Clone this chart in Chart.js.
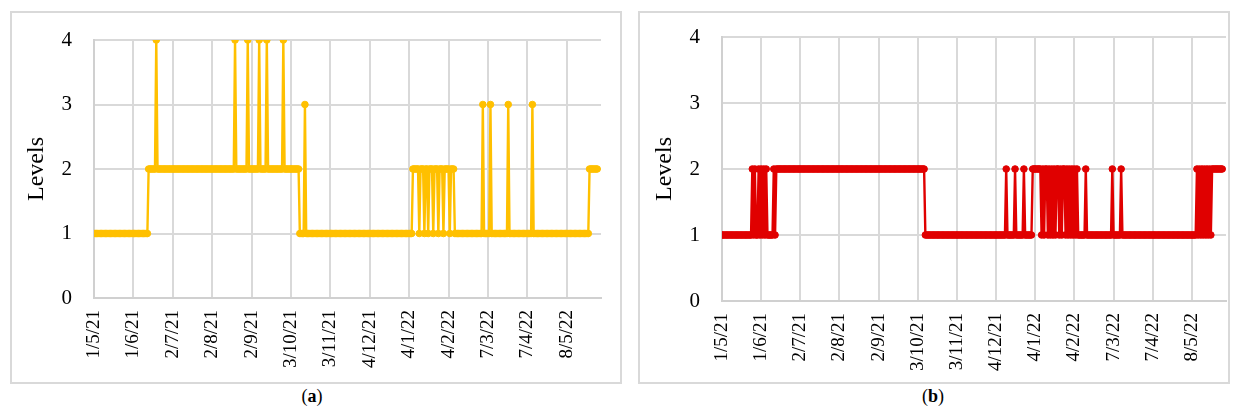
<!DOCTYPE html>
<html>
<head>
<meta charset="utf-8">
<script src="https://cdn.jsdelivr.net/npm/chart.js@4.4.1/dist/chart.umd.min.js"></script>
<style>
  html, body { margin:0; padding:0; background:#fff; }
  body { width:1239px; height:414px; position:relative; overflow:hidden; font-family:"Liberation Serif", serif; }
  .box { position:absolute; border:2px solid #d9d9d9; box-sizing:border-box; }
  canvas { position:absolute; }
  .cap { position:absolute; font-size:18px; color:#000; transform:translateX(-50%); }
</style>
</head>
<body>
<div class="box" style="left:10px; top:11px; width:612px; height:373px;"></div>
<div class="box" style="left:638px; top:11px; width:592px; height:373px;"></div>
<canvas id="ca" width="608" height="369" style="left:12px; top:13px;"></canvas>
<canvas id="cb" width="591" height="369" style="left:640px; top:13px;"></canvas>
<div class="cap" style="left:312px; top:386px;">(<b>a</b>)</div>
<div class="cap" style="left:933px; top:386px;">(<b>b</b>)</div>
<script>
// Day 0 = 1 May 2021; one value per day
const lastDay = 396;
const axisMaxDay = 399;
const tickDays = [0, 31, 62, 93, 124, 155, 186, 217, 248, 279, 310, 341, 372];
const tickLabels = ['1/5/21','1/6/21','2/7/21','2/8/21','2/9/21','3/10/21','3/11/21','4/12/21','4/1/22','4/2/22','7/3/22','7/4/22','8/5/22'];
const levelTicks = [0, 1, 2, 3, 4];

// Series (a): day on which the level changes, and the new level
const aChangeDays   = [0, 43, 49, 50, 111, 112, 121, 122, 130, 131, 136, 137, 149, 150, 162, 166, 167, 251, 256, 257, 260, 261, 263, 264, 267, 268, 271, 272, 275, 276, 280, 281, 284, 306, 307, 312, 313, 326, 327, 345, 346, 390];
const aChangeLevels = [1,  2,  4,  2,  4,   2,   4,   2,   4,   2,   4,   2,   4,   2,   1,   3,   1,   2,   1,   2,   1,   2,   1,   2,   1,   2,   1,   2,   1,   2,   1,   2,   1,   3,   1,   3,   1,   3,   1,   3,   1,   2];

// Series (b)
const bChangeDays   = [0,
  24, 25, 26, 27, 29, 30, 31, 32, 33, 34, 35, 36, 41, 42, 43,
  161,
  225, 226, 232, 233, 239, 240,
  246, 253, 254, 255, 256, 258, 259, 260, 261, 262, 263, 264, 265, 267, 268, 269, 270, 272, 273, 274, 275, 276, 277, 278, 279, 280, 281, 282,
  288, 289, 309, 310, 316, 317,
  376, 377, 378, 379, 380, 381, 382, 383, 384, 385, 386, 387, 388];
const bChangeLevels = [1,
  2, 1, 2, 1, 2, 1, 2, 1, 2, 1, 2, 1, 2, 1, 2,
  1,
  2, 1, 2, 1, 2, 1,
  2, 1, 2, 1, 2, 1, 2, 1, 2, 1, 2, 1, 2, 1, 2, 1, 2, 1, 2, 1, 2, 1, 2, 1, 2, 1, 2, 1,
  2, 1, 2, 1, 2, 1,
  2, 1, 2, 1, 2, 1, 2, 1, 2, 1, 2, 1, 2];

function dailyPoints(days, levels) {
  const pts = [];
  let k = 0;
  for (let d = 0; d <= lastDay; d++) {
    while (k + 1 < days.length && days[k + 1] <= d) k++;
    pts.push({ x: d, y: levels[k] });
  }
  return pts;
}

const SERIF = '"Liberation Serif", "Times New Roman", serif';

function makeChart(id, pts, color, geo) {
  return new Chart(document.getElementById(id), {
    type: 'line',
    data: { datasets: [{
      data: pts,
      borderColor: color,
      backgroundColor: color,
      borderWidth: 2.4,
      pointRadius: 3.3,
      pointBorderWidth: 1,
      pointStyle: 'circle',
      tension: 0
    }]},
    options: {
      responsive: false,
      animation: false,
      events: [],
      layout: { padding: { top: geo.top, right: geo.right, left: 0, bottom: 0 } },
      plugins: { legend: { display: false }, tooltip: { enabled: false } },
      scales: {
        x: {
          type: 'linear', min: 0, max: axisMaxDay,
          afterBuildTicks: s => { s.ticks = tickDays.map(v => ({ value: v })); },
          afterFit: s => { s.height = geo.xh; },
          ticks: {
            autoSkip: false, maxRotation: 90, minRotation: 90,
            callback: (v, i) => tickLabels[i],
            font: { family: SERIF, size: 19 }, color: '#000', padding: 12
          },
          grid: { color: '#d9d9d9', lineWidth: 2, drawTicks: false },
          border: { color: '#d0d0d0', width: 2 }
        },
        y: {
          min: 0, max: 4,
          afterBuildTicks: s => { s.ticks = levelTicks.map(v => ({ value: v })); },
          afterFit: s => { s.width = geo.yw; },
          ticks: { font: { family: SERIF, size: 21 }, color: '#000', padding: 2 },
          grid: { color: '#d9d9d9', lineWidth: 2, drawTicks: true, tickLength: 20, tickColor: 'rgba(0,0,0,0)' },
          border: { color: '#d0d0d0', width: 2 },
          title: { display: true, text: 'Levels', font: { family: SERIF, size: 24 }, color: '#000', padding: { top: 10, bottom: 0 } }
        }
      }
    }
  });
}

makeChart('ca', dailyPoints(aChangeDays, aChangeLevels), '#FFC000', { top: 27, right: 19, xh: 84, yw: 82 });
makeChart('cb', dailyPoints(bChangeDays, bChangeLevels), '#E00000', { top: 24, right: 0, xh: 81, yw: 82 });
</script>
</body>
</html>
